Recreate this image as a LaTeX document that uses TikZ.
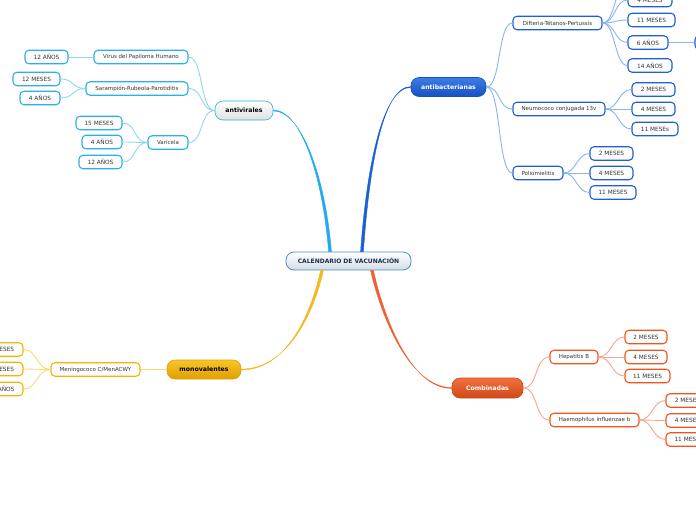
\documentclass[tikz,border=0pt]{standalone}
\usepackage{fontspec}
\setmainfont{DejaVu Sans}
\usetikzlibrary{calc}
\definecolor{txt}{HTML}{333333}
\definecolor{cenB}{HTML}{4A90D0}
\definecolor{cenF}{HTML}{D3DCE6}
\definecolor{cenT}{HTML}{1F2D4A}
\definecolor{bB}{HTML}{1C5FD6}
\definecolor{bL}{HTML}{8AB4F0}
\definecolor{bM}{HTML}{1A5FD8}
\definecolor{bTop}{HTML}{3B7EE4}
\definecolor{bBot}{HTML}{1650C0}
\definecolor{vB}{HTML}{2AB0EA}
\definecolor{vL}{HTML}{8FD6F5}
\definecolor{vM}{HTML}{22AAEE}
\definecolor{mB}{HTML}{F5B400}
\definecolor{mL}{HTML}{F9D977}
\definecolor{mM}{HTML}{F5B820}
\definecolor{mTop}{HTML}{F8C52A}
\definecolor{mBot}{HTML}{E09F00}
\definecolor{cB}{HTML}{F0541E}
\definecolor{cL}{HTML}{F8A58A}
\definecolor{cM}{HTML}{F06030}
\definecolor{cTop}{HTML}{F2703F}
\definecolor{cBot}{HTML}{D04818}
\begin{document}
\begin{tikzpicture}[x=1pt,y=-1pt,
  central/.style={draw=cenB, line width=0.8pt, rounded corners=8pt, top color=white, bottom color=cenF, minimum width=125pt, minimum height=18pt, inner sep=0pt, font=\bfseries\fontsize{6}{7}\selectfont, text=cenT},
  mainnode/.style={rounded corners=8pt, line width=0.6pt, minimum height=19pt, inner sep=0pt, font=\bfseries\fontsize{6.2}{7}\selectfont},
  subnode/.style={draw, fill=white, line width=1.1pt, rounded corners=4pt, minimum height=13.5pt, inner sep=0pt, font=\fontsize{5.5}{6.5}\selectfont, text=txt},
  leaf/.style={subnode, font=\fontsize{5.8}{7}\selectfont},
  bsub/.style={subnode, draw=bB}, bleaf/.style={leaf, draw=bB},
  vsub/.style={subnode, draw=vB}, vleaf/.style={leaf, draw=vB},
  msub/.style={subnode, draw=mB}, mleaf/.style={leaf, draw=mB},
  csub/.style={subnode, draw=cB}, cleaf/.style={leaf, draw=cB},
  bl/.style={draw=bL, line width=0.9pt},
  vl/.style={draw=vL, line width=0.9pt},
  ml/.style={draw=mL, line width=0.9pt},
  cl/.style={draw=cL, line width=0.9pt},
  bmain/.style={fill=bM, draw=bM, line width=0.4pt},
  vmain/.style={fill=vM, draw=vM, line width=0.4pt},
  mmain/.style={fill=mM, draw=mM, line width=0.4pt},
  cmain/.style={fill=cM, draw=cM, line width=0.4pt}
]
\clip (0,0) rectangle (696,520);
\fill[white] (0,0) rectangle (696,520);

% central and main nodes
\node[central] (c) at (348.5,261) {CALENDARIO DE VACUNACIÓN};

% main connectors (tapered), drawn before the main nodes
\coordinate (cAV) at ($(c.north)+(-18.5,0)$);
\coordinate (cAB) at ($(c.north)+(13.5,0)$);
\coordinate (cMV) at ($(c.south)+(-26.5,0)$);
\coordinate (cCB) at ($(c.south)+(23.5,0)$);

\node[mainnode, draw=bBot, top color=bTop, bottom color=bBot, text=white, minimum width=75pt] (ab) at (448.5,87) {antibacterianas};
\node[mainnode, draw=vB, top color=white, bottom color=black!12, text=black, minimum width=58pt] (av) at (244,110.5) {antivirales};
\node[mainnode, draw=mBot, top color=mTop, bottom color=mBot, text=black, minimum width=74pt] (mv) at (204,369.5) {monovalentes};
\node[mainnode, draw=cBot, top color=cTop, bottom color=cBot, text=white, minimum width=71pt, minimum height=20pt] (cb) at (487.5,388) {Combinadas};

\begin{scope}[on background layer/.style={}]
\path[vmain] ($(av.east)+(0,-0.4)$) .. controls +(28,0) and +(-6,-75) .. ($(cAV)+(-1.4,0)$)
  -- ($(cAV)+(1.4,0)$) .. controls +(-6,-75) and +(28,0) .. ($(av.east)+(0,0.4)$) -- cycle;
\path[bmain] ($(ab.west)+(0,-0.4)$) .. controls +(-28,0) and +(6,-85) .. ($(cAB)+(1.4,0)$)
  -- ($(cAB)+(-1.4,0)$) .. controls +(6,-85) and +(-28,0) .. ($(ab.west)+(0,0.4)$) -- cycle;
\path[mmain] ($(mv.east)+(0,-0.4)$) .. controls +(45,0) and +(-10,45) .. ($(cMV)+(1.4,0)$)
  -- ($(cMV)+(-1.4,0)$) .. controls +(-10,45) and +(45,0) .. ($(mv.east)+(0,0.4)$) -- cycle;
\path[cmain] ($(cb.west)+(0,-0.4)$) .. controls +(-42,0) and +(10,45) .. ($(cCB)+(-1.4,0)$)
  -- ($(cCB)+(1.4,0)$) .. controls +(10,45) and +(-42,0) .. ($(cb.west)+(0,0.4)$) -- cycle;
\end{scope}

% antibacterianas branch
\node[bsub, minimum width=89pt] (dtp) at (557.5,23) {Difteria-Tétanos-Pertussis};
\node[bsub, minimum width=92pt] (neu) at (559,109) {Neumococo conjugada 13v};
\node[bsub, minimum width=50pt] (pol) at (538,173) {Poliomielitis};
\foreach \n in {dtp,neu,pol}
  \draw[bl] (ab.east) .. controls +(15,0) and +(-15,0) .. (\n.west);

\coordinate (d0) at (628,-19);
\node[bleaf, minimum width=44pt] (d1) at (650,0) {4 MESES};
\node[bleaf, minimum width=47pt] (d2) at (651.5,20) {11 MESES};
\node[bleaf, minimum width=40pt] (d3) at (648,42.5) {6 AÑOS};
\node[bleaf, minimum width=44pt] (d4) at (650,65.5) {14 AÑOS};
\draw[bl] (dtp.east) .. controls +(13,0) and +(-13,0) .. (d0);
\foreach \n in {d1,d2,d3,d4}
  \draw[bl] (dtp.east) .. controls +(13,0) and +(-13,0) .. (\n.west);
\node[bleaf, minimum width=44pt] (d5) at (717,42.5) {};
\draw[draw=bL, line width=1.4pt] (d3.east) -- (d5.west);

\node[bleaf, minimum width=43pt] (n1) at (653.5,89.5) {2 MESES};
\node[bleaf, minimum width=43pt] (n2) at (653.5,109) {4 MESES};
\node[bleaf, minimum width=46pt] (n3) at (655,129) {11 MESEs};
\foreach \n in {n1,n2,n3}
  \draw[bl] (neu.east) .. controls +(13,0) and +(-13,0) .. (\n.west);

\node[bleaf, minimum width=43pt] (p1) at (611.5,153.5) {2 MESES};
\node[bleaf, minimum width=43pt] (p2) at (611.5,173) {4 MESES};
\node[bleaf, minimum width=46pt] (p3) at (613,192.5) {11 MESES};
\foreach \n in {p1,p2,p3}
  \draw[bl] (pol.east) .. controls +(13,0) and +(-13,0) .. (\n.west);

% antivirales branch
\node[vsub, minimum width=94pt] (vph) at (141,57) {Virus del Papiloma Humano};
\node[vsub, minimum width=102pt] (srp) at (137,88.5) {Sarampión-Rubeola-Parotiditis};
\node[vsub, minimum width=40pt] (var) at (168,142.5) {Varicela};
\foreach \n in {vph,srp,var}
  \draw[vl] (av.west) .. controls +(-15,0) and +(15,0) .. (\n.east);

\node[vleaf, minimum width=43pt] (h1) at (46.5,57) {12 AÑOS};
\draw[vl] (vph.west) -- (h1.east);
\node[vleaf, minimum width=47pt] (s1) at (36.5,79) {12 MESES};
\node[vleaf, minimum width=40pt] (s2) at (40,98) {4 AÑOS};
\foreach \n in {s1,s2}
  \draw[vl] (srp.west) .. controls +(-14,0) and +(14,0) .. (\n.east);
\node[vleaf, minimum width=46pt] (r1) at (99,123) {15 MESES};
\node[vleaf, minimum width=40pt] (r2) at (102,142) {4 AÑOS};
\node[vleaf, minimum width=43pt] (r3) at (100.5,162) {12 AÑOS};
\foreach \n in {r1,r2,r3}
  \draw[vl] (var.west) .. controls +(-14,0) and +(14,0) .. (\n.east);

% monovalentes branch
\node[msub, minimum width=89pt] (men) at (95.5,369.5) {Meningococo C/MenACWY};
\draw[ml] (mv.west) -- (men.east);
\node[mleaf, minimum width=43pt] (m1) at (1.5,349.5) {4 MESES};
\node[mleaf, minimum width=47pt] (m2) at (-0.5,369) {12 MESES};
\node[mleaf, minimum width=43pt] (m3) at (1.5,389) {12 AÑOS};
\foreach \n in {m1,m2,m3}
  \draw[ml] (men.west) .. controls +(-14,0) and +(14,0) .. (\n.east);

% combinadas branch
\node[csub, minimum width=48pt] (hb) at (574,357) {Hepatitis B};
\node[csub, minimum width=89pt] (hib) at (594.5,420) {Haemophilus influenzae b};
\foreach \n in {hb,hib}
  \draw[cl] (cb.east) .. controls +(15,0) and +(-15,0) .. (\n.west);

\node[cleaf, minimum width=42pt] (b1) at (646,337) {2 MESES};
\node[cleaf, minimum width=42pt] (b2) at (646,357) {4 MESES};
\node[cleaf, minimum width=45pt] (b3) at (647.5,376) {11 MESES};
\foreach \n in {b1,b2,b3}
  \draw[cl] (hb.east) .. controls +(13,0) and +(-13,0) .. (\n.west);

\node[cleaf, minimum width=43pt] (i1) at (687.5,400.5) {2 MESES};
\node[cleaf, minimum width=43pt] (i2) at (687.5,420.5) {4 MESES};
\node[cleaf, minimum width=46pt] (i3) at (689,439.5) {11 MESES};
\foreach \n in {i1,i2,i3}
  \draw[cl] (hib.east) .. controls +(13,0) and +(-13,0) .. (\n.west);
\end{tikzpicture}
\end{document}
